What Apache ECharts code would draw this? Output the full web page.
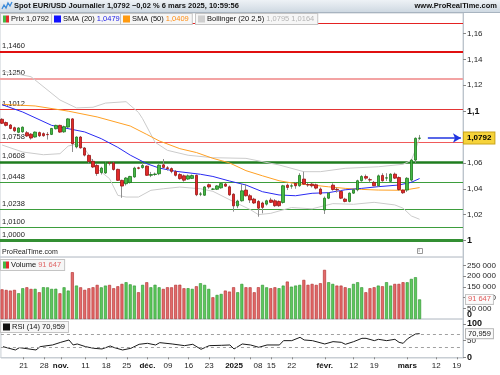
<!DOCTYPE html>
<html><head><meta charset="utf-8">
<script src="https://cdn.jsdelivr.net/npm/echarts@6.0.0/dist/echarts.min.js"></script>
<style>html,body{margin:0;padding:0;background:#fff;}#chart{width:500px;height:375px;}</style>
</head><body><div id="chart"></div>
<script>
// ---------------- DATA ----------------
const dates = ['10-14','10-15','10-16','10-17','10-18','10-21','10-22','10-23','10-24','10-25','10-28','10-29','10-30','10-31','11-01','11-04','11-05','11-06','11-07','11-08','11-11','11-12','11-13','11-14','11-15','11-18','11-19','11-20','11-21','11-22','11-25','11-26','11-27','11-28','11-29','12-02','12-03','12-04','12-05','12-06','12-09','12-10','12-11','12-12','12-13','12-16','12-17','12-18','12-19','12-20','12-23','12-24','12-26','12-27','12-30','12-31','01-02','01-03','01-06','01-07','01-08','01-09','01-10','01-13','01-14','01-15','01-16','01-17','01-20','01-21','01-22','01-23','01-24','01-27','01-28','01-29','01-30','01-31','02-03','02-04','02-05','02-06','02-07','02-10','02-11','02-12','02-13','02-14','02-17','02-18','02-19','02-20','02-21','02-24','02-25','02-26','02-27','02-28','03-03','03-04','03-05','03-06','03-07','03-10','03-11','03-12','03-13','03-14','03-17','03-18','03-19','03-20'];

// [open, high, low, close]
const ohlc = [
[1.0937,1.0945,1.0900,1.0906],[1.0912,1.0920,1.0882,1.0890],[1.0893,1.0900,1.0860,1.0866],[1.0872,1.0880,1.0838,1.0848],[1.0836,1.0876,1.0830,1.0870],
[1.0840,1.0882,1.0833,1.0876],[1.0833,1.0846,1.0800,1.0808],[1.0822,1.0830,1.0780,1.0792],[1.0800,1.0843,1.0795,1.0838],[1.0834,1.0842,1.0800,1.0810],
[1.0826,1.0836,1.0802,1.0810],[1.0820,1.0838,1.0780,1.0818],[1.0820,1.0870,1.0815,1.0866],[1.0864,1.0895,1.0858,1.0890],[1.0890,1.0895,1.0832,1.0838],
[1.0840,1.0888,1.0832,1.0880],[1.0877,1.0945,1.0870,1.0940],[1.0940,1.0945,1.0684,1.0748],[1.0723,1.0805,1.0712,1.0800],[1.0800,1.0808,1.0710,1.0716],
[1.0715,1.0722,1.0650,1.0660],[1.0658,1.0665,1.0595,1.0610],[1.0612,1.0630,1.0560,1.0568],[1.0580,1.0590,1.0500,1.0518],[1.0525,1.0570,1.0510,1.0560],
[1.0522,1.0610,1.0515,1.0600],[1.0600,1.0610,1.0580,1.0598],[1.0600,1.0608,1.0540,1.0549],[1.0550,1.0555,1.0460,1.0465],[1.0465,1.0470,1.0330,1.0421],
[1.0439,1.0490,1.0425,1.0483],[1.0448,1.0500,1.0440,1.0495],[1.0491,1.0570,1.0485,1.0560],[1.0562,1.0570,1.0550,1.0558],[1.0564,1.0600,1.0555,1.0580],
[1.0575,1.0580,1.0500,1.0504],[1.0504,1.0530,1.0490,1.0510],[1.0510,1.0525,1.0500,1.0514],[1.0516,1.0590,1.0505,1.0582],[1.0585,1.0630,1.0560,1.0565],
[1.0562,1.0575,1.0540,1.0556],[1.0556,1.0565,1.0520,1.0534],[1.0532,1.0545,1.0495,1.0504],[1.0510,1.0520,1.0470,1.0478],[1.0500,1.0510,1.0455,1.0466],
[1.0475,1.0510,1.0468,1.0500],[1.0480,1.0510,1.0475,1.0502],[1.0504,1.0510,1.0343,1.0354],[1.0358,1.0375,1.0343,1.0360],[1.0350,1.0420,1.0345,1.0414],
[1.0431,1.0440,1.0400,1.0414],[1.0396,1.0405,1.0390,1.0398],[1.0396,1.0428,1.0390,1.0422],[1.0407,1.0445,1.0400,1.0440],[1.0436,1.0445,1.0415,1.0420],
[1.0415,1.0425,1.0345,1.0353],[1.0358,1.0365,1.0223,1.0268],[1.0268,1.0315,1.0250,1.0305],[1.0307,1.0436,1.0300,1.0384],[1.0390,1.0437,1.0340,1.0346],
[1.0346,1.0360,1.0290,1.0313],[1.0320,1.0330,1.0282,1.0290],[1.0302,1.0312,1.0184,1.0250],[1.0290,1.0300,1.0210,1.0256],[1.0281,1.0315,1.0270,1.0307],
[1.0313,1.0330,1.0290,1.0295],[1.0307,1.0320,1.0260,1.0269],[1.0302,1.0310,1.0260,1.0269],[1.0294,1.0430,1.0285,1.0423],[1.0428,1.0440,1.0390,1.0410],
[1.0420,1.0440,1.0400,1.0423],[1.0441,1.0450,1.0400,1.0423],[1.0423,1.0520,1.0415,1.0503],[1.0475,1.0532,1.0430,1.0436],[1.0432,1.0445,1.0415,1.0429],
[1.0436,1.0445,1.0410,1.0423],[1.0431,1.0440,1.0395,1.0405],[1.0398,1.0410,1.0355,1.0359],[1.0236,1.0340,1.0205,1.0327],[1.0327,1.0375,1.0320,1.0366],
[1.0428,1.0442,1.0385,1.0394],[1.0396,1.0410,1.0370,1.0392],[1.0379,1.0390,1.0320,1.0327],[1.0320,1.0330,1.0295,1.0302],[1.0302,1.0372,1.0295,1.0366],
[1.0366,1.0400,1.0360,1.0392],[1.0392,1.0470,1.0380,1.0462],[1.0462,1.0505,1.0455,1.0495],[1.0495,1.0510,1.0470,1.0482],[1.0470,1.0485,1.0450,1.0468],
[1.0449,1.0460,1.0420,1.0423],[1.0423,1.0510,1.0415,1.0500],[1.0503,1.0520,1.0455,1.0462],[1.0482,1.0520,1.0460,1.0485],[1.0457,1.0520,1.0450,1.0513],
[1.0513,1.0525,1.0475,1.0482],[1.0487,1.0495,1.0385,1.0394],[1.0390,1.0395,1.0360,1.0369],[1.0390,1.0490,1.0375,1.0481],[1.0467,1.0630,1.0455,1.0622],
[1.0622,1.0797,1.0600,1.0790],[1.0790,1.0816,1.0777,1.0792]
];

const volumes = [
138700,135800,132900,136100,120400,143900,148400,140600,141200,125100,
148600,147900,140800,141500,120200,148300,133000,218900,156400,148200,
136300,143700,148500,159600,148100,156200,159400,143800,153100,164200,
172000,162100,156300,125200,159700,171800,148400,160100,148300,140700,
148500,148200,159800,160300,143700,144100,140900,153200,167300,159500,
140800,101600,112600,117300,132900,128200,148500,125100,164200,148400,
148300,125000,148600,159600,148200,143800,148400,144000,156300,175100,
151300,156400,159600,182900,159800,164200,159500,167300,229800,172000,
164100,156300,156200,148500,143800,164200,172000,148400,125100,143900,
148500,156300,153200,172100,156200,164100,164300,172000,171900,187600,
195400,91647
];

// [bar index, value]
const rsi14 = [[0,32],[3,22],[4,29],[8,22],[9,32],[12,37],[14,45],[16,52],[17,37],[18,40],[20,32],[22,27],[24,25],[26,34],[27,29],[29,22],[31,27],[33,39],[35,42],[37,37],[38,44],[41,40],[44,35],[46,39],[48,24],[50,35],[53,36],[55,37],[56,25],[58,40],[60,37],[62,30],[64,37],[67,37],[68,50],[70,50],[72,60],[73,52],[75,50],[78,40],[80,47],[82,45],[83,39],[85,47],[87,57],[88,57],[90,50],[91,54],[93,50],[95,54],[96,45],[97,42],[98,55],[99,63],[100,70],[101,70.959]];
const sma20 = [[0,1.1050],[5,1.0993],[12,1.0890],[20,1.0839],[24,1.0787],[28,1.0720],[31,1.0660],[35,1.0594],[38,1.0560],[42,1.0535],[48,1.0512],[51,1.0495],[55,1.0460],[59,1.0429],[63,1.0377],[67,1.0352],[71,1.0346],[75,1.0365],[79,1.0370],[83,1.0392],[87,1.0403],[91,1.0416],[96,1.0429],[99,1.0450],[101,1.0479]];
const sma50 = [[0,1.1053],[8,1.1040],[16,1.1000],[23,1.0955],[31,1.0885],[35,1.0820],[38,1.0770],[43,1.0710],[47,1.0680],[51,1.0635],[55,1.0600],[59,1.0540],[63,1.0500],[67,1.0462],[71,1.0440],[75,1.0429],[79,1.0415],[83,1.0403],[87,1.0395],[91,1.0390],[97,1.0388],[101,1.0409]];
const bollUpper = [[0,1.1310],[7,1.1266],[14,1.1086],[18,1.1025],[22,1.1030],[25,1.1062],[30,1.1073],[33,1.0990],[34,1.0941],[37,1.0760],[40,1.0697],[45,1.0659],[51,1.0640],[59,1.0635],[67,1.0584],[73,1.0532],[77,1.0532],[83,1.0558],[91,1.0570],[97,1.0589],[99,1.0620],[100,1.0700],[101,1.0795]];
const bollLower = [[0,1.0738],[5,1.0684],[10,1.0663],[14,1.0671],[16,1.0730],[18,1.0745],[20,1.0710],[23,1.0555],[26,1.0478],[28,1.0349],[30,1.0336],[33,1.0336],[36,1.0388],[39,1.0400],[43,1.0413],[48,1.0400],[51,1.0380],[56,1.0300],[60,1.0240],[62,1.0200],[65,1.0210],[70,1.0255],[75,1.0245],[80,1.0285],[85,1.0280],[90,1.0295],[95,1.0275],[97,1.0250],[99,1.0190],[101,1.0164]];

const levels = [1.1681, 1.1460, 1.1250, 1.1012, 1.0758, 1.0608, 1.0448, 1.0238, 1.0100, 1.0000];
const levelLabels = ['', '1,1460', '1,1250', '1,1012', '1,0758', '1,0608', '1,0448', '1,0238', '1,0100', '1,0000'];

const xTickDates = ['10-21','10-28','11-01','11-11','11-18','11-25','12-02','12-09','12-16','12-23','01-02','01-08','01-15','01-22','02-03','02-12','02-19','03-03','03-12','03-19'];
const xTickTexts = ['21','28','nov.','11','18','25','déc.','09','16','23','2025','08','15','22','févr.','12','19','mars','12','19'];
const priceTicks = [1.00, 1.02, 1.04, 1.06, 1.08, 1.10, 1.12, 1.14, 1.16];
const volumeTicks = [50000, 100000, 150000, 200000, 250000];
const volumeZeroTick = [0];
const rsiTicks = [0, 50, 100];

const lastPrice = 1.0792, lastSma20 = 1.0479, lastSma50 = 1.0409, lastBollUp = 1.0795, lastBollLow = 1.0164;
const lastVolume = 91647, lastRsi = 70.959;

// ---------------- STYLE ----------------
const FONT = '"Liberation Sans", Arial, Helvetica, sans-serif';
const COL = {up:'#45b945', upB:'#1e7a1e', dn:'#e22a2a', dnB:'#9a1414', wick:'#8e8e8e',
  sma20:'#2a2af2', sma50:'#ffa024', boll:'#cbcbcb', axis:'#bcc4cc', text:'#1e1e1e',
  vUp:'#5dc85d', vUpB:'#2a902a', vDn:'#e26a6a', vDnB:'#b02a2a'};
const levelStyles = [
  {c:'#e42222', w:1}, {c:'#e01010', w:2}, {c:'#f3a3a3', w:2}, {c:'#e33535', w:1}, {c:'#f05a5a', w:1},
  {c:'#1f7d1f', w:2.5}, {c:'#3d9d3d', w:1}, {c:'#3d9d3d', w:1}, {c:'#3d9d3d', w:1}, {c:'#338f33', w:3}
];
const HIDDEN_LINE = {color:'rgba(0,0,0,0)', width:0};

const comma = (v, d) => v.toFixed(d).replace('.', ',');
const spaced = v => String(v).replace(/\B(?=(\d{3})+(?!\d))/g, ' ');

const tickIdx = xTickDates.map(d => dates.indexOf(d));
const tickMap = {};
tickIdx.forEach((ix, k) => tickMap[ix] = xTickTexts[k]);
const boldTicks = new Set(['nov.','déc.','2025','févr.','mars']);

const chart = echarts.init(document.getElementById('chart'), null, {renderer:'canvas'});

const levelMarks = levels.map((lv, k) => ({
  yAxis: lv,
  lineStyle: {color: levelStyles[k].c, width: levelStyles[k].w, type:'solid'},
  label: {show: levelLabels[k] !== '', formatter: levelLabels[k], position:'insideStartTop',
          distance:[2, 2], color:'#1a1a1a', fontSize:7.5, fontFamily:FONT,
          backgroundColor:'#ffffff', padding:[0,1,0,0]}
}));

const arrowMark = [
  {coord:[103, lastPrice], symbol:'none'},
  {coord:[111, lastPrice], symbol:'arrow', symbolSize:[7,8],
   lineStyle:{color:'#2035e0', width:1.6, type:'solid'},
   label:{show:true, position:'end', distance:3, formatter: comma(lastPrice,4),
     backgroundColor:'#f6d33a', borderColor:'#c9a41c', borderWidth:1, padding:[2,3,1,3],
     color:'#000', fontWeight:'bold', fontSize:8, fontFamily:FONT}}
];

function legendBox(left, top, text, rich) {
  return {type:'text', left, top, z:100, silent:true,
    style:{text, rich, fontSize:7.5, fontFamily:FONT, fill:'#111',
      backgroundColor:'#f6f6f6', borderColor:'#c4c4c4', borderWidth:1, padding:[1,3,1,2]}};
}
const iconRich = {
  g:{backgroundColor:COL.up, width:3, height:7}, r:{backgroundColor:COL.dn, width:3, height:7},
  s20:{backgroundColor:'#1010ff', width:7, height:7}, s50:{backgroundColor:'#ff9a10', width:7, height:7},
  sb:{backgroundColor:'#cfcfcf', width:7, height:7}, k:{backgroundColor:'#111', width:7, height:7},
  v20:{fill:'#2323e6'}, v50:{fill:'#ff8c10'}, vb:{fill:'#b4b4b4'}, vv:{fill:'#e06666'}
};

const option = {
  animation:false,
  textStyle:{fontFamily:FONT},
  grid:[
    {left:0, right:37, top:13, height:244, show:true, borderColor:'#c8ced4', borderWidth:1},
    {left:0, right:37, top:257, height:62, show:true, borderColor:'#c8ced4', borderWidth:1},
    {left:0, right:37, top:319, height:39, show:true, borderColor:'#c8ced4', borderWidth:1}
  ],
  xAxis:[
    {type:'category', gridIndex:0, data:dates, boundaryGap:true, axisLine:{show:false}, axisTick:{show:false}, axisLabel:{show:false}},
    {type:'category', gridIndex:1, data:dates, boundaryGap:true, axisLine:{show:false}, axisTick:{show:false}, axisLabel:{show:false}},
    {type:'category', gridIndex:2, data:dates, boundaryGap:true,
      axisLine:{show:true, lineStyle:{color:'#c8ced4'}},
      axisTick:{show:true, alignWithLabel:true, length:2, interval:(i)=> tickMap[i] !== undefined, lineStyle:{color:'#888'}},
      axisLabel:{interval:0, margin:4, fontSize:8, color:COL.text, fontFamily:FONT,
        formatter:(v, i) => {
          const t = tickMap[i];
          if (t === undefined) return '';
          if (boldTicks.has(t)) return '{b|' + t + '}';
          if (t === '08') return '{s|' + t + '}';
          return t;
        },
        rich:{b:{fontWeight:'bold', fontSize:8, fontFamily:FONT, color:'#111'}, s:{padding:[0,0,0,15], fontSize:8, fontFamily:FONT, color:COL.text}}
      }}
  ],
  yAxis:[
    {type:'value', gridIndex:0, position:'right', min:0.98725, max:1.17585,
      axisLine:{show:true, lineStyle:{color:COL.axis}}, splitLine:{show:false},
      axisTick:{show:true, length:3, customValues:priceTicks, lineStyle:{color:'#888'}},
      axisLabel:{customValues:priceTicks, margin:4, fontSize:8, color:COL.text, fontFamily:FONT,
        formatter:v => { const r = Math.round(v*100)/100; const s = String(r).replace('.', ',');
          return (r === 1 || r === 1.1) ? '{b|' + s + '}' : s; },
        rich:{b:{fontWeight:'bold', fontSize:9, fontFamily:FONT, color:'#111'}}}},
    {type:'value', gridIndex:1, position:'right', min:0, max:290000,
      axisLine:{show:true, lineStyle:{color:COL.axis}}, splitLine:{show:false},
      axisTick:{show:true, length:3, customValues:volumeTicks, lineStyle:{color:'#888'}},
      axisLabel:{customValues:volumeTicks, margin:4, fontSize:8, color:COL.text, fontFamily:FONT,
        formatter:v => spaced(v)}},
    {type:'value', gridIndex:2, position:'right', min:-2.1, max:115,
      axisLine:{show:true, lineStyle:{color:COL.axis}}, splitLine:{show:false},
      axisTick:{show:true, length:3, customValues:rsiTicks, lineStyle:{color:'#888'}},
      axisLabel:{customValues:rsiTicks, margin:4, fontSize:8, color:COL.text, fontFamily:FONT,
        formatter:v => (v === 0 || v === 100) ? '{b|' + v + '}' : String(v),
        rich:{b:{fontWeight:'bold', fontSize:9, fontFamily:FONT, color:'#111'}}}},
    {type:'value', gridIndex:1, position:'right', min:0, max:290000,
      axisLine:{show:false}, splitLine:{show:false}, axisTick:{show:false},
      axisLabel:{customValues:volumeZeroTick, margin:4, verticalAlign:'bottom', fontSize:9, fontWeight:'bold', color:'#111', fontFamily:FONT,
        formatter:v => String(v)}}
  ],
  series:[
    {name:'BollUp', type:'line', xAxisIndex:0, yAxisIndex:0, data:bollUpper, symbol:'none', silent:true, z:1,
      lineStyle:{color:COL.boll, width:1}},
    {name:'BollLow', type:'line', xAxisIndex:0, yAxisIndex:0, data:bollLower, symbol:'none', silent:true, z:1,
      lineStyle:{color:COL.boll, width:1}},
    {name:'SMA50', type:'line', xAxisIndex:0, yAxisIndex:0, data:sma50, symbol:'none', silent:true, z:1,
      lineStyle:{color:COL.sma50, width:1}},
    {name:'SMA20', type:'line', xAxisIndex:0, yAxisIndex:0, data:sma20, symbol:'none', silent:true, z:1,
      lineStyle:{color:COL.sma20, width:1}},
    {name:'Wicks', type:'candlestick', xAxisIndex:0, yAxisIndex:0, barWidth:1, silent:true, z:2,
      data: ohlc.map(([o,h,l,c]) => [o, c, l, h]),
      itemStyle:{color:COL.wick, color0:COL.wick, borderColor:COL.wick, borderColor0:COL.wick, borderWidth:1},
      markLine:{silent:true, precision:4, symbol:['none','none'], animation:false, z:0, data: levelMarks}},
    {name:'Prix', type:'candlestick', xAxisIndex:0, yAxisIndex:0, barWidth:3, silent:true, z:3,
      data: ohlc.map(([o,h,l,c]) => [o, c, Math.min(o,c), Math.max(o,c)]),
      itemStyle:{color:COL.up, color0:COL.dn, borderColor:COL.upB, borderColor0:COL.dnB, borderWidth:0.8},
      markLine:{silent:true, precision:4, symbol:['none','none'], animation:false, data:[arrowMark]}},
    {name:'Volume', type:'bar', xAxisIndex:1, yAxisIndex:1, barWidth:3, silent:true,
      data: volumes.map((v, i) => {
        const up = i === 0 ? ohlc[0][3] >= ohlc[0][0] : ohlc[i][3] >= ohlc[i-1][3];
        return {value:v, itemStyle:{color: up ? COL.vUp : COL.vDn, borderColor: up ? COL.vUpB : COL.vDnB, borderWidth:0.6}};
      }),
      markLine:{silent:true, precision:0, symbol:['none','none'], animation:false, z:10, data:[
        {yAxis:lastVolume, lineStyle:HIDDEN_LINE, label:{show:true, position:'end', distance:3, formatter:spaced(lastVolume),
          color:'#e05a5a', backgroundColor:'#fbfbfb', borderColor:'#c4c4c4', borderWidth:1, padding:[1,2,0,2], fontSize:7.5, fontFamily:FONT}}
      ]}},
    {name:'RSI', type:'line', xAxisIndex:2, yAxisIndex:2, data:rsi14, symbol:'none', silent:true,
      lineStyle:{color:'#1a1a1a', width:1},
      markLine:{silent:true, precision:3, symbol:['none','none'], animation:false, z:10, data:[
        {yAxis:70, lineStyle:{color:'#a0a0a0', width:1, type:[3,3]}, label:{show:false}},
        {yAxis:30, lineStyle:{color:'#a0a0a0', width:1, type:[3,3]}, label:{show:false}},
        {yAxis:lastRsi, lineStyle:HIDDEN_LINE, label:{show:true, position:'end', distance:3, formatter:comma(lastRsi,3),
          color:'#111', backgroundColor:'#fbfbfb', borderColor:'#b4b4b4', borderWidth:1, padding:[1,2,0,2], fontSize:7.5, fontFamily:FONT}}
      ]}}
  ],
  graphic:[
    {type:'rect', left:0, top:0, z:90, silent:true, shape:{width:500, height:12},
      style:{fill:new echarts.graphic.LinearGradient(0,0,0,1,[{offset:0,color:'#eef2f6'},{offset:1,color:'#cfd9e2'}])}},
    {type:'line', z:91, silent:true, shape:{x1:0, y1:12.5, x2:500, y2:12.5}, style:{stroke:'#a8b4c0', lineWidth:1}},
    {type:'polyline', z:92, silent:true, shape:{points:[[2,9],[4,5],[6,8],[8,3],[10,6],[12,2]]}, style:{stroke:'#3b8ad9', lineWidth:1.3, fill:null}},
    {type:'text', left:14, top:2, z:92, silent:true, style:{text:'Spot EUR/USD Journalier ' + comma(lastPrice,4) + ' \u22120,02 % 6 mars 2025, 10:59:56',
      fontSize:7.5, fontWeight:'bold', fontFamily:FONT, fill:'#111'}},
    {type:'text', right:3, top:2, z:92, silent:true, style:{text:'www.ProRealTime.com', fontSize:7.5, fontWeight:'bold', fontFamily:FONT, fill:'#111'}},
    legendBox(0, 13, '{g| }{r| } Prix ' + comma(lastPrice,4), iconRich),
    legendBox(51, 13, '{s20| } SMA (20) {v20|' + comma(lastSma20,4) + '}', iconRich),
    legendBox(120, 13, '{s50| } SMA (50) {v50|' + comma(lastSma50,4) + '}', iconRich),
    legendBox(195, 13, '{sb| } Bollinger (20 2,5) {vb|' + comma(lastBollUp,4) + ' ' + comma(lastBollLow,4) + '}', iconRich),
    {type:'text', left:2, top:249, z:92, silent:true, style:{text:'ProRealTime.com', fontSize:7, fontFamily:FONT, fill:'#222'}},
    {type:'rect', left:417, top:248, z:92, silent:true, shape:{width:5, height:5}, style:{fill:'#fff', stroke:'#999', lineWidth:1}},
    {type:'text', left:418.6, top:248, z:93, silent:true, style:{text:'i', fontSize:5, fontFamily:FONT, fill:'#666'}},
    legendBox(0, 259, '{g| }{r| } Volume {vv|' + spaced(lastVolume) + '}', iconRich),
    legendBox(0, 321, '{k| } RSI (14) ' + comma(lastRsi,3), iconRich)
  ]
};
chart.setOption(option);
</script>
</body></html>
